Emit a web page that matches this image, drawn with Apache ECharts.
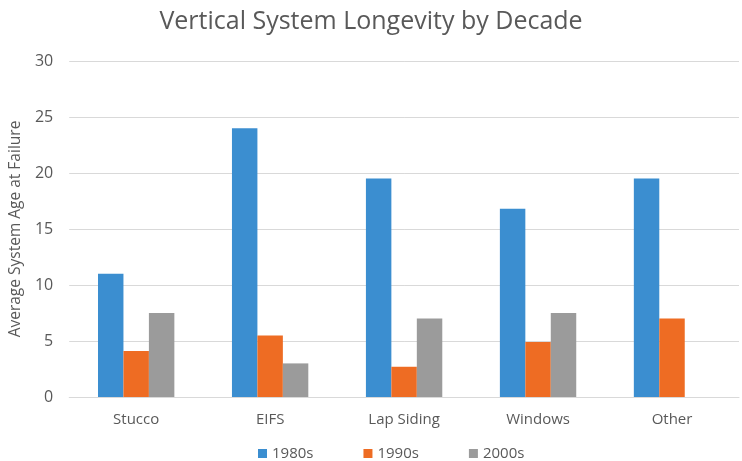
<!DOCTYPE html>
<html>
<head>
<meta charset="utf-8">
<script src="https://cdn.jsdelivr.net/npm/echarts@6/dist/echarts.min.js"></script>
<style>
  html, body { margin: 0; padding: 0; background: #fff; }
  #chart { width: 742px; height: 461px; }
</style>
</head>
<body>
<div id="chart"></div>
<script>
// Average system age at failure, grouped by decade of construction
const categories = ['Stucco', 'EIFS', 'Lap Siding', 'Windows', 'Other'];
const seriesNames = ['1980s', '1990s', '2000s'];
const values1980s = [11, 24, 19.5, 16.8, 19.5];
const values1990s = [4.1, 5.5, 2.7, 4.9, 7];
const values2000s = [7.5, 3, 7, 7.5, 0];
const yTicks = { min: 0, max: 30, interval: 5 };

const colors = ['#3B8ED0', '#EE6C23', '#9B9B9B'];
const textColor = '#595959';
const font = 'Open Sans';

const chart = echarts.init(document.getElementById('chart'), null, { renderer: 'canvas' });

const seriesData = [values1980s, values1990s, values2000s];

chart.setOption({
  animation: false,
  backgroundColor: '#ffffff',
  color: colors,
  textStyle: { fontFamily: font, color: textColor },
  title: {
    text: 'Vertical System Longevity by Decade',
    left: 'center',
    top: 4,
    textStyle: { fontFamily: font, fontSize: 25, fontWeight: 'normal', color: textColor }
  },
  legend: {
    data: seriesNames,
    left: 253,
    top: 441,
    itemWidth: 9,
    itemHeight: 9,
    itemGap: 50,
    icon: 'rect',
    textStyle: { fontFamily: font, fontSize: 15, color: textColor }
  },
  grid: { left: 68, right: 3, top: 61, bottom: 64 },
  xAxis: {
    type: 'category',
    data: categories,
    axisLine: { show: true, lineStyle: { color: '#D9D9D9', width: 1 } },
    axisTick: { show: false },
    axisLabel: { fontFamily: font, fontSize: 15, color: textColor, margin: 15 }
  },
  yAxis: {
    type: 'value',
    min: yTicks.min,
    max: yTicks.max,
    interval: yTicks.interval,
    name: 'Average System Age at Failure',
    nameLocation: 'middle',
    nameGap: 42,
    nameTextStyle: { fontFamily: font, fontSize: 15.5, color: textColor },
    axisLine: { show: false },
    axisTick: { show: false },
    axisLabel: { fontFamily: font, fontSize: 16, color: textColor, margin: 16 },
    splitLine: { lineStyle: { color: '#D9D9D9', width: 1 } }
  },
  series: seriesNames.map((name, i) => ({
    name: name,
    type: 'bar',
    data: seriesData[i],
    barGap: '0%',
    barCategoryGap: '43%',
    itemStyle: { color: colors[i] }
  }))
});
</script>
</body>
</html>
